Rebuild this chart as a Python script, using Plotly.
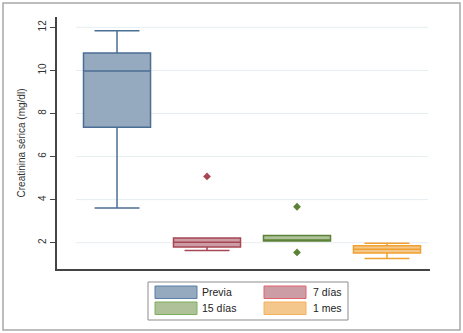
import plotly.graph_objects as go

categories = ["Previa", "7 días", "15 días", "1 mes"]
q1 = [7.36, 1.80, 2.08, 1.52]
median = [9.97, 2.02, 2.08, 1.70]
q3 = [10.81, 2.22, 2.34, 1.86]
lowerfence = [3.61, 1.64, 2.08, 1.27]
upperfence = [11.84, 2.22, 2.34, 1.97]
outlier_x = [1, 2, 2]
outlier_y = [5.08, 3.67, 1.55]
yticks = [2, 4, 6, 8, 10, 12]

line_colors = ["#4B6E94", "#A84654", "#5B8236", "#F0A02E"]
fill_colors = ["#95A9BF", "#CC9DA5", "#AEC199", "#F4C88C"]
legend_line = ["#5A7FA8", "#E0646E", "#7DB05A", "#F5B060"]

W, H = 463, 333
L, R, T, B = 57, 430, 17, 269

def px(x):
    return (x - L) / (R - L)

def py(y):
    return (B - y) / (B - T)

fig = go.Figure()
for i, c in enumerate(categories):
    fig.add_trace(go.Box(
        x=[i], q1=[q1[i]], median=[median[i]], q3=[q3[i]],
        lowerfence=[lowerfence[i]], upperfence=[upperfence[i]],
        name=c, width=0.745, whiskerwidth=0.67,
        fillcolor=fill_colors[i],
        line=dict(color=line_colors[i], width=1.5),
        boxpoints=False, showlegend=False, hoverinfo="skip",
    ))

fig.add_trace(go.Scatter(
    x=outlier_x, y=outlier_y, mode="markers",
    marker=dict(symbol="diamond", size=6,
                color=[line_colors[i] for i in outlier_x]),
    showlegend=False, hoverinfo="skip",
))

shapes = []
# gridlines
for t in yticks:
    shapes.append(dict(type="line", xref="paper", yref="y",
                       x0=px(76), x1=px(428), y0=t, y1=t,
                       line=dict(color="#E6EEF1", width=1), layer="below"))
# outer frame
shapes.append(dict(type="rect", xref="paper", yref="paper",
                   x0=px(3), x1=px(460), y0=py(3), y1=py(330),
                   line=dict(color="#A8A8A8", width=1.5)))
# legend box
shapes.append(dict(type="rect", xref="paper", yref="paper",
                   x0=px(148), x1=px(348), y0=py(282), y1=py(320),
                   line=dict(color="#8C8C8C", width=1), fillcolor="white"))
annotations = []
col_sw = [(155, 197), (264, 306)]
col_tx = [200, 311]
row_y = [(286, 298.5), (302, 314.5)]
for i, c in enumerate(categories):
    r, k = divmod(i, 2)
    shapes.append(dict(type="rect", xref="paper", yref="paper",
                       x0=px(col_sw[k][0]), x1=px(col_sw[k][1]),
                       y0=py(row_y[r][0]), y1=py(row_y[r][1]),
                       fillcolor=fill_colors[i],
                       line=dict(color=legend_line[i], width=1)))
    annotations.append(dict(xref="paper", yref="paper",
                            x=px(col_tx[k]), y=py((row_y[r][0] + row_y[r][1]) / 2),
                            text=c, showarrow=False, xanchor="left", yanchor="middle",
                            font=dict(size=10.5, color="#222")))

fig.update_layout(
    width=W, height=H,
    margin=dict(l=L, r=W - R, t=T, b=H - B),
    paper_bgcolor="white", plot_bgcolor="white",
    font=dict(family="Liberation Sans, Arial, sans-serif", color="#333"),
    shapes=shapes, annotations=annotations,
    xaxis=dict(range=[-0.667, 3.478], showticklabels=False, ticks="",
               showgrid=False, zeroline=False, showline=True,
               linecolor="#444", linewidth=1.5, fixedrange=True),
    yaxis=dict(range=[0.78, 12.48], tickvals=yticks, tickangle=-90,
               ticks="outside", ticklen=5, tickcolor="#444", tickwidth=1,
               tickfont=dict(size=10, color="#333"),
               showgrid=False, zeroline=False, showline=True,
               linecolor="#444", linewidth=1.5,
               title=dict(text="Creatinina sérica (mg/dl)",
                          font=dict(size=10, color="#333"), standoff=10),
               automargin=False),
)

fig.write_html("out.html", config={"displayModeBar": False},
               post_script="document.body.style.margin='0';document.body.style.overflow='hidden';")
